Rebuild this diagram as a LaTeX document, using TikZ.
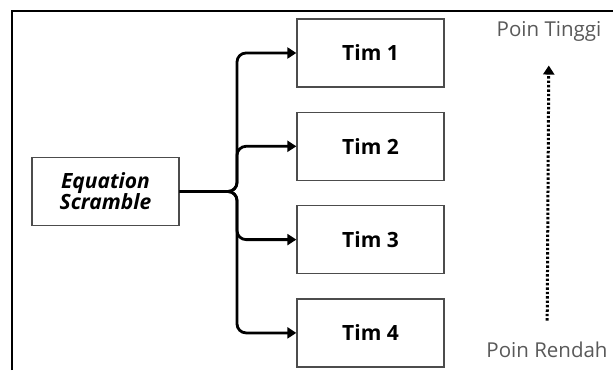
\documentclass[tikz,border=0pt]{standalone}
\usepackage{fontspec}
\setmainfont{Open Sans}
\usetikzlibrary{arrows.meta,positioning,calc}

\begin{document}
\begin{tikzpicture}[
    x=1pt, y=-1pt,
    >={Triangle[length=9pt,width=11pt]},
    box/.style={draw=black!70, line width=1.3pt, minimum width=147pt, minimum height=68pt, align=center, font=\fontsize{21}{21}\selectfont\bfseries},
    conn/.style={->, line width=2.8pt, rounded corners=9pt},
    lvl/.style={text=black!65, font=\fontsize{20.5}{22}\selectfont}
  ]
  \useasboundingbox (0,0) rectangle (613,370);
  % frame
  \draw[line width=2pt] (12,370) -- (12,11) -- (613,11);

  \node[box] (eq) at (105.5,191.5) {\itshape Equation\\\itshape Scramble};
  \node[box] (t1) at (370.5,53) {Tim 1};
  \node[box, below=24pt of t1] (t2) {Tim 2};
  \node[box, below=24pt of t2] (t3) {Tim 3};
  \node[box, below=24pt of t3] (t4) {Tim 4};
  \coordinate (split) at (237,191.5);

  \foreach \t in {t1,t2,t3,t4}
    \draw[conn] (eq.east) -- (split) |- (\t.west);

  \node[lvl] (high) at (549,31) {Poin Tinggi};
  \node[lvl] (low) at (547,350) {Poin Rendah};
  \draw[->, line width=3pt, dash pattern=on 2.4pt off 2pt, shorten <=18pt, shorten >=21pt] (low) -- (high);
\end{tikzpicture}
\end{document}
